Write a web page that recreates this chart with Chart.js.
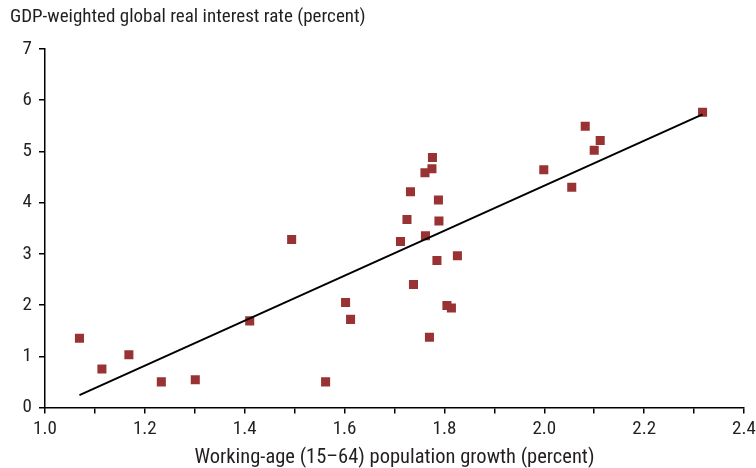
<!DOCTYPE html>
<html>
<head>
<meta charset="utf-8">
<script src="https://cdn.jsdelivr.net/npm/chart.js@4/dist/chart.umd.min.js"></script>
<style>
  html, body { margin: 0; padding: 0; background: #fff; }
  #chart { display: block; }
</style>
</head>
<body>
<canvas id="chart" width="756" height="468"></canvas>
<script>
// working-age population growth (x) vs real interest rate (y)
const growth = [1.069, 1.114, 1.168, 1.233, 1.301, 1.410, 1.494, 1.602, 1.612, 1.562,
  1.776, 1.775, 1.761, 1.732, 1.788, 1.725, 1.789, 1.762, 1.712, 1.785,
  1.826, 1.738, 1.805, 1.814, 1.770,
  2.082, 2.112, 2.100, 1.999, 2.055, 2.317];
const rate = [1.35, 0.75, 1.03, 0.50, 0.54, 1.69, 3.28, 2.05, 1.72, 0.50,
  4.88, 4.66, 4.58, 4.21, 4.05, 3.67, 3.64, 3.35, 3.24, 2.87,
  2.96, 2.40, 1.99, 1.94, 1.37,
  5.49, 5.21, 5.02, 4.64, 4.30, 5.76];

// fitted line end points
const fitX = [1.069, 2.317];
const fitY = [0.24, 5.72];

const yTitle = 'GDP-weighted global real interest rate (percent)';
const xTitle = 'Working-age (15\u201364) population growth (percent)';

const FONT = '"Liberation Sans Narrow", "Arial Narrow", "Roboto Condensed", "Liberation Sans", sans-serif';
const INK = '#231f20';

const points = growth.map((x, i) => ({ x: x, y: rate[i] }));
const fit = fitX.map((x, i) => ({ x: x, y: fitY[i] }));

new Chart(document.getElementById('chart'), {
  type: 'scatter',
  data: {
    datasets: [
      {
        type: 'line',
        data: fit,
        borderColor: '#000',
        borderWidth: 2,
        pointRadius: 0,
        fill: false
      },
      {
        data: points,
        pointStyle: 'rect',
        pointRadius: 6.4,
        backgroundColor: '#993333',
        borderColor: '#993333',
        borderWidth: 0
      }
    ]
  },
  options: {
    responsive: false,
    animation: false,
    layout: { padding: { left: 10, right: 0, top: 6, bottom: 0 } },
    plugins: {
      legend: { display: false },
      tooltip: { enabled: false },
      title: {
        display: true,
        text: yTitle,
        align: 'start',
        color: INK,
        font: { family: FONT, size: 19, weight: 'normal', lineHeight: 1.2 },
        padding: { top: 0, bottom: 20 }
      }
    },
    scales: {
      x: {
        type: 'linear',
        min: 1.0,
        max: 2.4,
        afterFit: scale => { scale.paddingRight = 12; },
        border: { display: true, color: '#000', width: 1.5 },
        grid: { display: true, drawOnChartArea: false, drawTicks: true, tickLength: 6, color: '#000', lineWidth: 1.5 },
        ticks: {
          stepSize: 0.1,
          autoSkip: false,
          maxRotation: 0,
          color: INK,
          font: { family: FONT, size: 19, lineHeight: 1.0 },
          padding: 6,
          callback: v => Math.round(v * 10) % 2 === 0 ? v.toFixed(1) : ''
        },
        title: {
          display: true,
          text: xTitle,
          color: INK,
          font: { family: FONT, size: 20.5, lineHeight: 1.0 },
          padding: { top: 3, bottom: 0 }
        }
      },
      y: {
        min: 0,
        max: 7,
        afterFit: scale => { scale.width = 35; },
        border: { display: true, color: '#000', width: 1.5 },
        grid: { display: true, drawOnChartArea: false, drawTicks: true, tickLength: 6, color: '#000', lineWidth: 1.5 },
        ticks: {
          stepSize: 1,
          color: INK,
          font: { family: FONT, size: 19 },
          padding: 7
        }
      }
    }
  }
});
</script>
</body>
</html>
